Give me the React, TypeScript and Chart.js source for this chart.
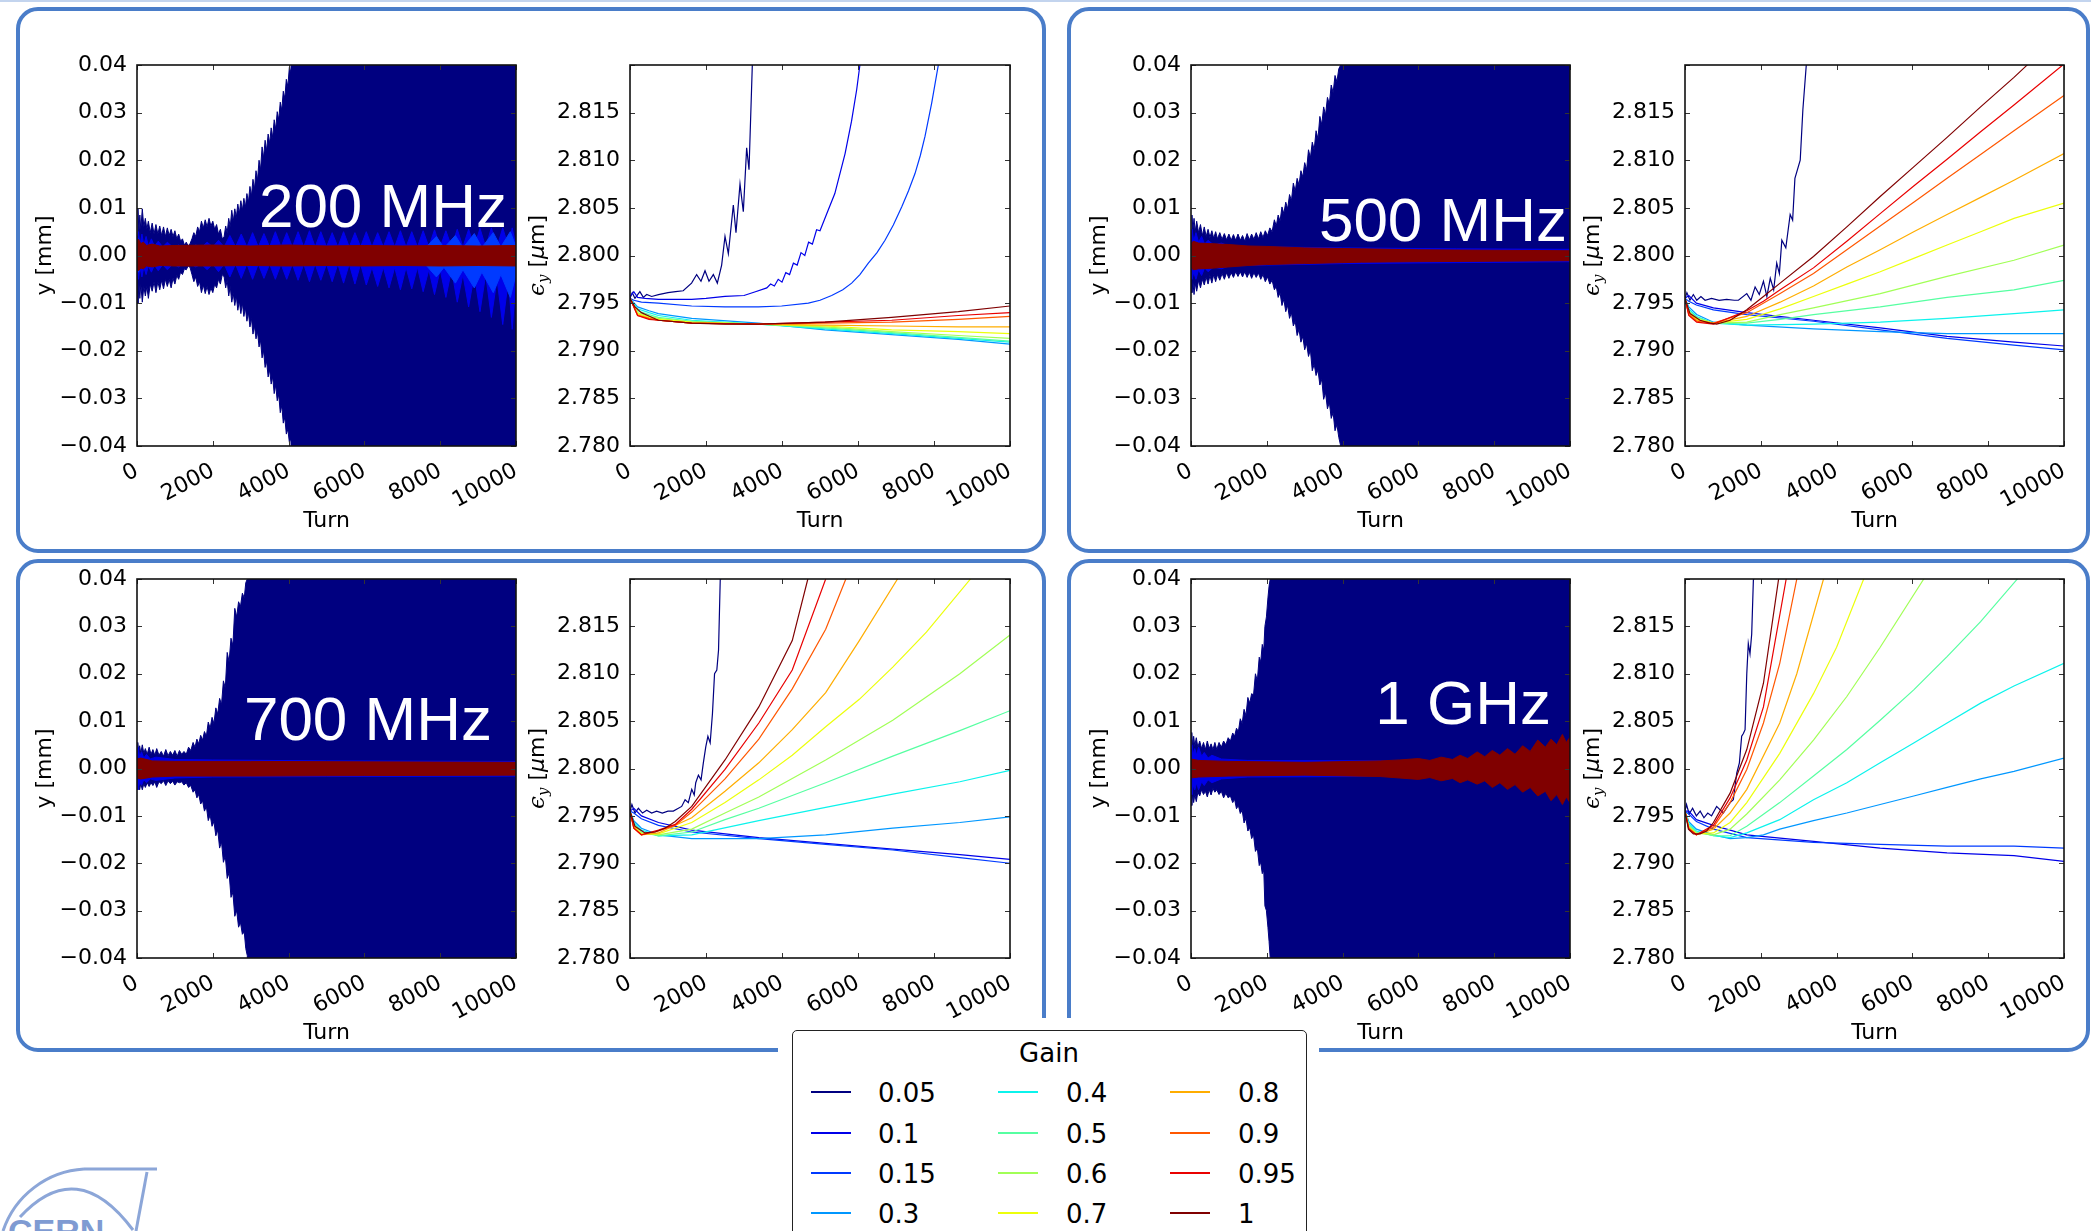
import React, { useEffect, useRef } from 'react';
import { Chart, registerables } from 'chart.js';

Chart.register(...registerables);
Chart.defaults.font.family = '"DejaVu Sans", sans-serif';

// ---------------- data ----------------
const GAIN_LABELS = ['0.05', '0.1', '0.15', '0.3', '0.4', '0.5', '0.6', '0.7', '0.8', '0.9', '0.95', '1'];
const GAIN_COLORS = ['#000080', '#0000E9', '#003AFF', '#0097FF', '#0BF3EC', '#56FFA1', '#A1FF56', '#ECFF0B', '#FFAD00', '#FF5700', '#E90100', '#800000'];
const FREQ_LABELS = ['200 MHz', '500 MHz', '700 MHz', '1 GHz'];
const TURN_TICKS = [0, 2000, 4000, 6000, 8000, 10000];
const Y_TICKS = [-0.04, -0.03, -0.02, -0.01, 0, 0.01, 0.02, 0.03, 0.04];
const EPS_TICKS = [2.78, 2.785, 2.79, 2.795, 2.8, 2.805, 2.81, 2.815, 2.82];

// vertical position envelopes [turn, upper (mm), lower (mm)]
const Y_200MHZ_NAVY = [[0,0.004,-0.004],[25,0.0099,-0.01],[50,0.005,-0.006],[75,0.0085,-0.009],[100,0.0055,-0.006],[140,0.0098,-0.0098],[180,0.006,-0.0065],[220,0.0078,-0.0085],[260,0.0055,-0.0065],[300,0.0072,-0.009],[350,0.0048,-0.006],[400,0.0068,-0.0075],[450,0.0045,-0.0055],[500,0.0065,-0.0078],[550,0.0045,-0.0055],[600,0.0062,-0.0072],[650,0.0042,-0.0052],[700,0.006,-0.007],[750,0.004,-0.005],[800,0.0058,-0.0065],[850,0.0042,-0.005],[900,0.0055,-0.0068],[950,0.004,-0.0048],[1000,0.0052,-0.006],[1050,0.0035,-0.0042],[1100,0.0045,-0.005],[1150,0.003,-0.0035],[1200,0.0035,-0.004],[1250,0.0022,-0.0028],[1300,0.0028,-0.003],[1350,0.002,-0.0022],[1400,0.0025,-0.0025],[1450,0.0035,-0.004],[1500,0.0048,-0.0055],[1550,0.004,-0.0045],[1600,0.006,-0.0065],[1650,0.005,-0.0055],[1700,0.0072,-0.0078],[1750,0.0058,-0.0062],[1800,0.0075,-0.008],[1850,0.006,-0.0065],[1900,0.0078,-0.0082],[1950,0.0062,-0.0068],[2000,0.0072,-0.0078],[2050,0.0055,-0.006],[2100,0.0065,-0.0068],[2150,0.0045,-0.005],[2200,0.0055,-0.006],[2250,0.0035,-0.004],[2300,0.004,-0.0045],[2340,0.0062,-0.0068],[2380,0.0048,-0.0052],[2420,0.0078,-0.0085],[2460,0.006,-0.0065],[2500,0.0095,-0.0098],[2540,0.0072,-0.008],[2580,0.0098,-0.0105],[2620,0.008,-0.0085],[2660,0.0108,-0.0115],[2700,0.0088,-0.0095],[2740,0.0115,-0.0122],[2780,0.0095,-0.01],[2820,0.012,-0.0128],[2860,0.0102,-0.011],[2900,0.013,-0.0138],[2940,0.0112,-0.012],[2980,0.0145,-0.015],[3020,0.0125,-0.0132],[3060,0.016,-0.0165],[3100,0.014,-0.0148],[3140,0.0178,-0.0175],[3180,0.0158,-0.016],[3220,0.02,-0.0192],[3260,0.018,-0.0178],[3300,0.0228,-0.0215],[3340,0.0205,-0.02],[3380,0.0242,-0.0235],[3420,0.022,-0.0222],[3460,0.0255,-0.0255],[3500,0.0235,-0.024],[3540,0.0268,-0.027],[3580,0.0248,-0.0255],[3620,0.0285,-0.029],[3660,0.0265,-0.0272],[3700,0.0302,-0.0305],[3740,0.0285,-0.0292],[3780,0.0322,-0.033],[3820,0.0305,-0.0315],[3860,0.0345,-0.0352],[3900,0.033,-0.034],[3940,0.037,-0.0375],[3980,0.0355,-0.0365],[4020,0.0395,-0.0392],[4060,0.0385,-0.0385],[4100,0.05,-0.05],[10000,0.05,-0.05]];
const Y_200MHZ_BLUE1 = [[0,0.003,-0.003],[40,0.005,-0.005],[80,0.0022,-0.0025],[130,0.0045,-0.0045],[180,0.0022,-0.0024],[240,0.004,-0.004],[300,0.002,-0.0022],[380,0.0035,-0.0035],[460,0.0019,-0.002],[560,0.003,-0.0032],[680,0.0018,-0.0019],[800,0.0028,-0.003],[950,0.0017,-0.0018],[1100,0.0022,-0.0024],[1250,0.0014,-0.0015],[1400,0.0016,-0.0017],[1550,0.0022,-0.0024],[1700,0.0017,-0.0018],[1850,0.0028,-0.003],[2000,0.0018,-0.0018],[2150,0.0032,-0.0034],[2300,0.0018,-0.0018],[2450,0.0042,-0.0045],[2600,0.0018,-0.0018],[2750,0.0045,-0.0048],[2900,0.0018,-0.0018],[3050,0.0048,-0.005],[3200,0.0018,-0.0018],[3350,0.0046,-0.0048],[3500,0.0018,-0.0018],[3650,0.005,-0.005],[3800,0.0018,-0.0018],[3950,0.0048,-0.005],[4100,0.0018,-0.0018],[4250,0.005,-0.0052],[4400,0.0018,-0.0018],[4550,0.0052,-0.0055],[4700,0.0018,-0.0018],[4850,0.005,-0.0052],[5000,0.0018,-0.0018],[5150,0.0048,-0.0055],[5300,0.0018,-0.0018],[5450,0.005,-0.0058],[5600,0.0018,-0.0018],[5750,0.0048,-0.006],[5900,0.0018,-0.0018],[6050,0.005,-0.0062],[6200,0.0018,-0.0025],[6350,0.0048,-0.0065],[6500,0.0018,-0.0025],[6650,0.005,-0.0068],[6800,0.0018,-0.0025],[6950,0.0052,-0.0072],[7100,0.0018,-0.0025],[7250,0.005,-0.007],[7400,0.0018,-0.0025],[7550,0.0052,-0.0076],[7700,0.0018,-0.003],[7850,0.0054,-0.0082],[8000,0.0018,-0.003],[8150,0.0052,-0.0088],[8300,0.0018,-0.003],[8450,0.0055,-0.0098],[8600,0.0018,-0.004],[8750,0.0055,-0.0108],[8900,0.0018,-0.004],[9050,0.0057,-0.0118],[9200,0.0018,-0.004],[9350,0.0058,-0.013],[9500,0.0018,-0.005],[9650,0.0058,-0.0145],[9800,0.0018,-0.005],[9900,0.0058,-0.0155],[10000,0.0018,-0.005]];
const Y_200MHZ_BLUE2 = [[0,0.002,-0.002],[40,0.0035,-0.0035],[100,0.0015,-0.0015],[200,0.0022,-0.0022],[400,0.0014,-0.0015],[1000,0.0013,-0.0013],[7600,0.0015,-0.0018],[7900,0.004,-0.0045],[8100,0.0016,-0.0025],[8400,0.0042,-0.0058],[8600,0.0016,-0.003],[8900,0.0046,-0.0068],[9100,0.0017,-0.0035],[9400,0.0048,-0.0078],[9600,0.0018,-0.004],[9850,0.005,-0.0088],[10000,0.0018,-0.004]];
const Y_200MHZ_RED = [[0,0.003,-0.003],[40,0.0034,-0.0032],[100,0.0025,-0.0026],[170,0.0028,-0.0028],[250,0.0021,-0.0022],[400,0.0024,-0.0024],[600,0.002,-0.0021],[1000,0.0021,-0.0022],[2000,0.0022,-0.0022],[3000,0.002,-0.0021],[4000,0.0022,-0.0022],[5000,0.002,-0.0021],[6000,0.0021,-0.0022],[7000,0.002,-0.0021],[8000,0.0021,-0.0022],[9000,0.002,-0.0021],[10000,0.0021,-0.0022]];

const Y_500MHZ_NAVY = [[0,0.004,-0.004],[25,0.0085,-0.0078],[50,0.0055,-0.0055],[80,0.0078,-0.0082],[110,0.005,-0.0058],[150,0.0072,-0.0075],[200,0.0048,-0.0052],[250,0.0065,-0.0068],[300,0.0042,-0.005],[350,0.006,-0.0062],[400,0.004,-0.0045],[450,0.0055,-0.006],[500,0.0038,-0.0042],[550,0.0052,-0.0058],[600,0.0036,-0.004],[650,0.005,-0.0055],[700,0.0035,-0.004],[760,0.0048,-0.0052],[820,0.0034,-0.0038],[880,0.0046,-0.005],[940,0.0033,-0.0036],[1000,0.0045,-0.0048],[1060,0.0032,-0.0036],[1120,0.0044,-0.0046],[1180,0.0032,-0.0034],[1240,0.0045,-0.0044],[1300,0.0032,-0.0034],[1360,0.0042,-0.0045],[1420,0.003,-0.0034],[1480,0.0046,-0.0046],[1540,0.0033,-0.0035],[1600,0.0045,-0.0048],[1660,0.0034,-0.0036],[1720,0.0048,-0.0046],[1780,0.0035,-0.0037],[1840,0.005,-0.005],[1900,0.0038,-0.004],[1960,0.0052,-0.0055],[2020,0.0042,-0.0045],[2080,0.0058,-0.006],[2140,0.005,-0.0052],[2200,0.0075,-0.0072],[2250,0.0062,-0.0065],[2300,0.0085,-0.0088],[2350,0.0072,-0.0078],[2400,0.0102,-0.0105],[2450,0.0088,-0.0092],[2500,0.0112,-0.0118],[2550,0.0098,-0.0105],[2600,0.0128,-0.0132],[2650,0.0115,-0.012],[2700,0.0152,-0.0148],[2750,0.0135,-0.0138],[2800,0.0162,-0.0168],[2850,0.0148,-0.0155],[2900,0.0178,-0.0182],[2950,0.0165,-0.017],[3000,0.0195,-0.0198],[3050,0.018,-0.0185],[3100,0.0222,-0.0212],[3150,0.0205,-0.0198],[3200,0.0238,-0.0242],[3250,0.0222,-0.0228],[3300,0.0262,-0.0252],[3350,0.0245,-0.024],[3400,0.0292,-0.0272],[3450,0.0275,-0.026],[3500,0.0312,-0.0302],[3550,0.0295,-0.0288],[3600,0.0332,-0.0322],[3650,0.0318,-0.0308],[3700,0.0358,-0.0342],[3750,0.0342,-0.033],[3800,0.0378,-0.0368],[3850,0.0365,-0.0355],[3900,0.0392,-0.0382],[3950,0.04,-0.04],[4000,0.05,-0.05],[10000,0.05,-0.05]];
const Y_500MHZ_BLUE1 = [[0,0.003,-0.003],[30,0.0055,-0.005],[70,0.003,-0.0035],[130,0.0048,-0.005],[200,0.0028,-0.003],[280,0.004,-0.0042],[360,0.0024,-0.0026],[450,0.0032,-0.0034],[600,0.0022,-0.0024],[800,0.0026,-0.0028],[1000,0.002,-0.0022],[2000,0.0018,-0.002],[4000,0.0016,-0.0017],[7000,0.0014,-0.0015],[10000,0.0013,-0.0013]];
const Y_500MHZ_RED = [[0,0.0025,-0.0025],[60,0.003,-0.003],[200,0.0026,-0.0028],[500,0.0025,-0.0027],[1000,0.0023,-0.0024],[1500,0.002,-0.0021],[2000,0.0019,-0.0019],[3000,0.0016,-0.0017],[4500,0.0014,-0.0014],[6000,0.0012,-0.0013],[8000,0.0011,-0.0012],[10000,0.001,-0.0011]];

const Y_700MHZ_NAVY = [[0,0.003,-0.003],[20,0.0055,-0.0045],[45,0.0035,-0.0035],[70,0.0048,-0.0045],[100,0.0032,-0.0032],[140,0.005,-0.0045],[180,0.0032,-0.0032],[220,0.0042,-0.004],[270,0.003,-0.003],[320,0.0045,-0.0038],[370,0.003,-0.003],[420,0.004,-0.0036],[470,0.0028,-0.0028],[520,0.0042,-0.004],[580,0.0028,-0.0028],[640,0.0036,-0.0032],[700,0.0026,-0.0026],[760,0.004,-0.0036],[820,0.0027,-0.0026],[880,0.0036,-0.0032],[940,0.0028,-0.0027],[1000,0.0038,-0.0035],[1060,0.0026,-0.0028],[1120,0.0038,-0.003],[1180,0.003,-0.0028],[1240,0.0036,-0.0035],[1300,0.003,-0.003],[1360,0.0045,-0.004],[1420,0.0038,-0.0036],[1480,0.0055,-0.005],[1530,0.0045,-0.0045],[1580,0.0062,-0.0062],[1630,0.0052,-0.0055],[1680,0.007,-0.0075],[1730,0.006,-0.0068],[1780,0.0078,-0.009],[1830,0.0068,-0.008],[1880,0.0098,-0.011],[1930,0.0085,-0.0098],[1980,0.0108,-0.0122],[2030,0.0095,-0.0112],[2080,0.0128,-0.0142],[2130,0.0115,-0.013],[2180,0.0148,-0.0168],[2230,0.0135,-0.0155],[2280,0.0185,-0.0198],[2330,0.017,-0.0185],[2380,0.0245,-0.0232],[2430,0.0225,-0.022],[2480,0.0275,-0.0272],[2530,0.026,-0.0262],[2580,0.0338,-0.0312],[2630,0.032,-0.03],[2680,0.0352,-0.0335],[2730,0.0342,-0.0325],[2780,0.037,-0.035],[2830,0.036,-0.0345],[2870,0.0392,-0.038],[2910,0.04,-0.0395],[2960,0.05,-0.05],[10000,0.05,-0.05]];
const Y_700MHZ_BLUE1 = [[0,0.0035,-0.0035],[30,0.0045,-0.0045],[70,0.0025,-0.003],[120,0.0035,-0.0035],[180,0.0022,-0.0024],[250,0.003,-0.003],[350,0.002,-0.0022],[500,0.0024,-0.0025],[1000,0.0019,-0.002],[2000,0.0018,-0.0018],[5000,0.0016,-0.0017],[10000,0.0015,-0.0016]];
const Y_700MHZ_RED = [[0,0.002,-0.002],[100,0.0022,-0.0022],[400,0.0016,-0.0018],[1000,0.0015,-0.0016],[3000,0.0015,-0.0016],[6000,0.0014,-0.0015],[10000,0.0013,-0.0014]];

const Y_1GHZ_NAVY = [[0,0.004,-0.004],[20,0.0076,-0.0078],[45,0.0045,-0.0052],[70,0.0068,-0.0072],[100,0.0048,-0.0055],[140,0.0065,-0.007],[180,0.0045,-0.005],[230,0.0058,-0.0058],[280,0.0042,-0.0045],[330,0.0055,-0.0055],[380,0.004,-0.0048],[430,0.0058,-0.006],[480,0.0042,-0.0045],[530,0.0052,-0.0056],[580,0.004,-0.0042],[630,0.0055,-0.005],[680,0.004,-0.0045],[740,0.0055,-0.0055],[800,0.0045,-0.0048],[860,0.0058,-0.0062],[920,0.005,-0.0052],[980,0.0065,-0.0062],[1040,0.0058,-0.0058],[1100,0.0075,-0.0072],[1150,0.0068,-0.0065],[1200,0.0085,-0.0085],[1250,0.0078,-0.0078],[1300,0.0105,-0.0095],[1350,0.0095,-0.0088],[1400,0.0125,-0.0115],[1450,0.0112,-0.0105],[1500,0.015,-0.0132],[1550,0.0138,-0.0125],[1600,0.0158,-0.0148],[1650,0.0155,-0.014],[1700,0.02,-0.0175],[1750,0.0185,-0.0168],[1800,0.0235,-0.0205],[1840,0.0225,-0.0198],[1880,0.0262,-0.0222],[1920,0.025,-0.0215],[1950,0.03,-0.029],[1990,0.032,-0.03],[2030,0.036,-0.0335],[2060,0.0385,-0.0365],[2090,0.04,-0.04],[2110,0.05,-0.05],[10000,0.05,-0.05]];
const Y_1GHZ_BLUE1 = [[0,0.0035,-0.0035],[25,0.005,-0.0055],[60,0.003,-0.0035],[100,0.0042,-0.0045],[150,0.0028,-0.003],[200,0.0045,-0.0045],[280,0.0026,-0.0028],[350,0.0034,-0.0036],[450,0.0022,-0.0024],[550,0.0028,-0.003],[800,0.002,-0.0022],[1500,0.0017,-0.0018],[10000,0.0015,-0.0015]];
const Y_1GHZ_RED = [[0,0.002,-0.002],[200,0.0017,-0.0018],[1000,0.0015,-0.0016],[3000,0.0013,-0.0014],[5000,0.0016,-0.0017],[5500,0.0018,-0.002],[6000,0.0021,-0.0023],[6300,0.0017,-0.0019],[6600,0.0024,-0.0026],[6900,0.0019,-0.0021],[7100,0.0028,-0.003],[7300,0.0021,-0.0024],[7550,0.0035,-0.0033],[7750,0.0025,-0.0026],[7950,0.0038,-0.004],[8150,0.0028,-0.003],[8350,0.0042,-0.0044],[8550,0.003,-0.0034],[8750,0.0048,-0.005],[8950,0.0036,-0.004],[9150,0.006,-0.0058],[9350,0.0045,-0.0048],[9500,0.0062,-0.0068],[9650,0.005,-0.0055],[9800,0.0072,-0.0076],[9900,0.0055,-0.006],[10000,0.0066,-0.0072]];

// emittance curves per gain (same order as GAIN_LABELS): [turn, eps_y (um)]
const EPS_200MHZ = [
  [[0,2.7955],[60,2.7961],[130,2.7955],[260,2.7962],[350,2.7956],[440,2.7959],[570,2.7957],[750,2.7959],[1000,2.7961],[1200,2.7962],[1400,2.7963],[1620,2.7971],[1754,2.798],[1868,2.7973],[1974,2.7984],[2079,2.7973],[2193,2.798],[2298,2.7971],[2412,2.799],[2500,2.802],[2588,2.8002],[2719,2.8053],[2789,2.8024],[2895,2.8075],[2982,2.8046],[3070,2.8113],[3132,2.809],[3219,2.82],[3240,2.823]],
  [[0,2.7957],[100,2.7962],[200,2.7956],[400,2.7955],[746,2.7954],[1200,2.7954],[1623,2.7954],[2000,2.7955],[2500,2.7957],[3000,2.7958],[3300,2.7962],[3600,2.7966],[3700,2.797],[3800,2.7968],[3900,2.7975],[4000,2.7972],[4100,2.7982],[4200,2.798],[4300,2.7992],[4400,2.799],[4500,2.8003],[4600,2.8],[4700,2.8014],[4800,2.8012],[4910,2.8027],[5000,2.8026],[5180,2.8044],[5390,2.8065],[5660,2.8107],[5830,2.8141],[5965,2.8174],[6050,2.82],[6080,2.822]],
  [[0,2.7955],[100,2.7953],[300,2.7951],[746,2.795],[1623,2.7947],[2500,2.7946],[3377,2.7946],[3990,2.7947],[4693,2.795],[5000,2.7953],[5307,2.7958],[5600,2.7964],[5833,2.7971],[6050,2.798],[6272,2.7992],[6500,2.8003],[6711,2.8016],[6930,2.8032],[7149,2.8051],[7330,2.8068],[7500,2.8086],[7640,2.8105],[7763,2.8125],[7939,2.816],[8114,2.82],[8150,2.8215]],
  [[0,2.7955],[200,2.7946],[500,2.7942],[746,2.7939],[1623,2.7934],[3377,2.7929],[5132,2.7922],[6886,2.7917],[8640,2.7912],[10000,2.7907]],
  [[0,2.7955],[200,2.7944],[500,2.794],[746,2.7937],[1623,2.7932],[3377,2.7928],[5132,2.7923],[6886,2.7918],[8640,2.7913],[10000,2.7909]],
  [[0,2.7955],[200,2.7942],[500,2.7938],[746,2.7935],[1623,2.7931],[3377,2.7928],[5132,2.7924],[6886,2.7919],[8640,2.7914],[10000,2.791]],
  [[0,2.7955],[200,2.794],[500,2.7936],[746,2.7934],[1623,2.793],[3377,2.7928],[5132,2.7925],[6886,2.792],[8640,2.7916],[10000,2.7913]],
  [[0,2.7955],[200,2.7939],[500,2.7935],[746,2.7933],[1623,2.793],[3377,2.7928],[5132,2.7926],[6886,2.7922],[8640,2.792],[10000,2.7918]],
  [[0,2.7955],[200,2.7938],[500,2.7934],[746,2.7932],[1623,2.7929],[3377,2.7928],[5132,2.7927],[6886,2.7926],[8640,2.7925],[10000,2.7925]],
  [[0,2.7955],[200,2.7937],[500,2.7934],[746,2.7932],[1623,2.7929],[3377,2.7928],[5132,2.7929],[6886,2.793],[8640,2.7933],[10000,2.7936]],
  [[0,2.7955],[200,2.7937],[500,2.7933],[746,2.7932],[1623,2.7929],[3377,2.7928],[5132,2.793],[6886,2.7932],[8640,2.7937],[10000,2.794]],
  [[0,2.7955],[130,2.7946],[300,2.794],[526,2.7936],[746,2.7932],[1623,2.7929],[2500,2.7928],[3377,2.7928],[5132,2.793],[6886,2.7935],[8640,2.7941],[10000,2.7947]],
];
const EPS_500MHZ = [
  [[0,2.7955],[50,2.7961],[130,2.7953],[220,2.7959],[310,2.7953],[420,2.7957],[530,2.7953],[700,2.7955],[900,2.7953],[1100,2.7954],[1300,2.7953],[1410,2.7953],[1630,2.796],[1740,2.7953],[1850,2.7967],[1960,2.7959],[2070,2.7973],[2160,2.7957],[2250,2.7976],[2340,2.7964],[2420,2.7992],[2490,2.7981],[2555,2.8016],[2660,2.8008],[2775,2.8043],[2840,2.8037],[2900,2.8081],[3040,2.81],[3110,2.8153],[3200,2.82],[3220,2.822]],
  [[0,2.7955],[100,2.7958],[300,2.795],[750,2.7945],[1630,2.794],[3390,2.7932],[5150,2.7924],[6915,2.7915],[8680,2.7909],[10000,2.7905]],
  [[0,2.7955],[100,2.7952],[300,2.7948],[750,2.7943],[1630,2.7938],[3390,2.7931],[5150,2.7922],[6915,2.7913],[8680,2.7906],[10000,2.7901]],
  [[0,2.7955],[100,2.7946],[308,2.7938],[750,2.793],[1630,2.7927],[3390,2.7923],[5150,2.792],[6915,2.7918],[8680,2.7918],[10000,2.7918]],
  [[0,2.7955],[100,2.7944],[308,2.7936],[750,2.7929],[1630,2.7927],[3390,2.7928],[5150,2.793],[6915,2.7934],[8680,2.7939],[10000,2.7943]],
  [[0,2.7955],[100,2.7942],[308,2.7935],[750,2.7929],[1630,2.7929],[2510,2.7933],[3390,2.7938],[5150,2.7946],[6915,2.7956],[8680,2.7964],[10000,2.7974]],
  [[0,2.7955],[100,2.7941],[308,2.7934],[750,2.7929],[1630,2.793],[2510,2.7938],[3390,2.7945],[5150,2.796],[6915,2.7978],[8680,2.7995],[10000,2.8011]],
  [[0,2.7955],[100,2.794],[308,2.7933],[750,2.7929],[1630,2.7933],[2510,2.7944],[3390,2.7957],[4270,2.797],[5150,2.7983],[6035,2.7997],[6915,2.8011],[7800,2.8025],[8680,2.8039],[10000,2.8055]],
  [[0,2.7955],[100,2.7939],[308,2.7932],[750,2.7929],[1630,2.7936],[2510,2.7951],[3390,2.7968],[4270,2.7988],[5150,2.8006],[6035,2.8025],[6915,2.8043],[7800,2.8061],[8680,2.8079],[10000,2.8107]],
  [[0,2.7955],[100,2.7938],[308,2.7931],[750,2.7929],[1630,2.794],[2510,2.796],[3390,2.7981],[4270,2.8006],[5150,2.8031],[6035,2.8056],[6915,2.8081],[7800,2.8106],[8680,2.8131],[10000,2.8168]],
  [[0,2.7955],[100,2.7937],[308,2.793],[750,2.7928],[1630,2.7942],[2070,2.7952],[2510,2.7964],[3390,2.7987],[4270,2.8015],[5150,2.8044],[6035,2.8073],[6915,2.8101],[7800,2.813],[8680,2.8158],[10000,2.8201]],
  [[0,2.7955],[132,2.7939],[396,2.7932],[660,2.7929],[837,2.7928],[1190,2.7932],[1630,2.7943],[2070,2.7957],[2510,2.7971],[3390,2.7999],[4270,2.803],[5150,2.8062],[6035,2.8093],[6915,2.8124],[7800,2.8156],[8680,2.8187],[9030,2.82],[9100,2.8205]],
];
const EPS_700MHZ = [
  [[0,2.7955],[50,2.7962],[130,2.7953],[220,2.7958],[330,2.7953],[440,2.7956],[570,2.7953],[700,2.7955],[850,2.7953],[1000,2.7955],[1140,2.7955],[1360,2.796],[1450,2.7967],[1535,2.7964],[1625,2.7978],[1690,2.7972],[1730,2.7985],[1800,2.7993],[1870,2.7988],[1930,2.8006],[1995,2.8023],[2050,2.8034],[2110,2.8027],[2170,2.8058],[2225,2.81],[2285,2.8104],[2330,2.8125],[2375,2.82],[2390,2.822]],
  [[0,2.7955],[100,2.7958],[300,2.795],[750,2.7943],[1625,2.7935],[3390,2.7927],[5150,2.7921],[6915,2.7915],[8680,2.7909],[10000,2.7904]],
  [[0,2.7955],[100,2.7953],[300,2.7947],[750,2.794],[1625,2.7933],[3390,2.7926],[5150,2.792],[6915,2.7914],[8680,2.7906],[10000,2.79]],
  [[0,2.7955],[100,2.7945],[300,2.7937],[750,2.793],[1625,2.7926],[3390,2.7926],[5150,2.793],[6915,2.7937],[8680,2.7943],[10000,2.7949]],
  [[0,2.7955],[100,2.7943],[300,2.7935],[750,2.7929],[1625,2.793],[3390,2.7945],[5150,2.7959],[6915,2.7973],[8680,2.7986],[10000,2.7998]],
  [[0,2.7955],[100,2.7941],[300,2.7933],[750,2.7929],[1625,2.7933],[2500,2.7946],[3390,2.7958],[5150,2.7985],[6915,2.8013],[8680,2.804],[10000,2.8061]],
  [[0,2.7955],[100,2.794],[300,2.7932],[750,2.793],[1625,2.7936],[2500,2.7953],[3390,2.797],[5150,2.8009],[6915,2.8051],[8680,2.81],[10000,2.8141]],
  [[0,2.7955],[100,2.7939],[300,2.7931],[750,2.7931],[1625,2.7943],[2500,2.7964],[3390,2.7988],[4270,2.8014],[5150,2.8044],[6035,2.8073],[6915,2.8107],[7800,2.8144],[8960,2.82],[9000,2.8203]],
  [[0,2.7955],[100,2.7938],[300,2.793],[750,2.7932],[1625,2.7948],[2500,2.7976],[3390,2.8006],[4270,2.8041],[5150,2.808],[6035,2.8135],[7040,2.82],[7100,2.8205]],
  [[0,2.7955],[100,2.7937],[300,2.793],[750,2.7934],[1190,2.794],[1625,2.7954],[2500,2.7989],[3390,2.8031],[4270,2.8084],[5150,2.8147],[5680,2.82],[5720,2.8205]],
  [[0,2.7955],[100,2.7937],[300,2.793],[750,2.7935],[1190,2.7941],[1625,2.7957],[2500,2.7999],[3390,2.8048],[4270,2.8104],[5150,2.82],[5200,2.8205]],
  [[0,2.7955],[130,2.7939],[395,2.7932],[660,2.7933],[920,2.7937],[1190,2.7944],[1625,2.796],[2500,2.8009],[3390,2.8065],[4270,2.8135],[4680,2.82],[4720,2.8205]],
];
const EPS_1GHZ = [
  [[0,2.7955],[40,2.7962],[110,2.7952],[200,2.7958],[300,2.795],[400,2.7955],[500,2.7948],[600,2.7953],[700,2.795],[835,2.796],[1010,2.7953],[1190,2.7964],[1275,2.7967],[1365,2.7995],[1435,2.8006],[1495,2.8034],[1540,2.8037],[1585,2.8041],[1630,2.81],[1670,2.8132],[1715,2.8121],[1760,2.8142],[1805,2.82],[1820,2.8215]],
  [[0,2.7955],[100,2.7955],[300,2.7946],[750,2.794],[1630,2.793],[3390,2.7923],[5150,2.7916],[6915,2.7911],[8680,2.7908],[10000,2.7902]],
  [[0,2.7955],[100,2.7952],[300,2.7944],[750,2.7936],[1630,2.7927],[3390,2.7922],[5150,2.792],[6915,2.7918],[8680,2.7918],[10000,2.7916]],
  [[0,2.7955],[100,2.7944],[300,2.7936],[750,2.793],[1190,2.7926],[1630,2.7927],[2070,2.793],[2500,2.7936],[3390,2.7945],[4270,2.7953],[5150,2.7962],[6035,2.7971],[6915,2.798],[7800,2.7989],[8680,2.7997],[10000,2.8011]],
  [[0,2.7955],[100,2.7942],[300,2.7934],[750,2.7929],[1190,2.7927],[1630,2.7932],[2500,2.7946],[3390,2.7967],[4270,2.7985],[5150,2.8006],[6035,2.8027],[6915,2.8048],[7800,2.8069],[8680,2.8087],[10000,2.8111]],
  [[0,2.7955],[100,2.794],[300,2.7933],[750,2.7929],[1190,2.7929],[1630,2.7939],[2500,2.7964],[3390,2.7992],[4270,2.802],[5150,2.8051],[6035,2.8083],[6915,2.8118],[7800,2.8155],[8770,2.82],[8800,2.8202]],
  [[0,2.7955],[100,2.7939],[300,2.7932],[750,2.793],[1190,2.7936],[1630,2.7952],[2500,2.7988],[3390,2.803],[4270,2.8076],[5150,2.8128],[6300,2.82],[6350,2.8203]],
  [[0,2.7955],[100,2.7938],[300,2.7931],[750,2.7932],[1190,2.7943],[1630,2.7964],[2500,2.8016],[3390,2.8079],[4000,2.8128],[4715,2.82],[4750,2.8204]],
  [[0,2.7955],[100,2.7937],[300,2.793],[750,2.7936],[1190,2.7953],[1630,2.7978],[2500,2.8048],[2950,2.81],[3655,2.82],[3700,2.8206]],
  [[0,2.7955],[100,2.7937],[300,2.793],[750,2.7938],[1190,2.7964],[1630,2.7999],[2070,2.8048],[2500,2.8111],[2950,2.82],[2980,2.8205]],
  [[0,2.7955],[100,2.7936],[300,2.793],[750,2.794],[1190,2.7969],[1630,2.8009],[2070,2.8065],[2670,2.82],[2700,2.8205]],
  [[0,2.7955],[90,2.7936],[220,2.7931],[395,2.7931],[570,2.7934],[750,2.7943],[1190,2.7974],[1630,2.802],[2070,2.809],[2470,2.82],[2500,2.8206]],
];

// ---------------- layout ----------------
const YW = 130;
const XH = 100;
const PT = 15;
const PR = 15;
const FONT = '"DejaVu Sans", sans-serif';
const PANEL_BLUE = '#4A7DC9';

const mplPlugin: any = {
  id: 'mpl',
  afterDatasetsDraw(chart: any, _args: any, opts: any) {
    const { ctx, chartArea: a } = chart;
    const xs = chart.scales.x;
    const ys = chart.scales.y;
    ctx.save();
    if (opts.label) {
      ctx.font = '62px "Liberation Sans", Arial, sans-serif';
      ctx.fillStyle = '#ffffff';
      ctx.textAlign = 'right';
      ctx.textBaseline = 'alphabetic';
      ctx.fillText(opts.label, a.right - opts.labelDx, a.top + opts.labelDy);
    }
    ctx.strokeStyle = '#333';
    ctx.lineWidth = 1;
    ctx.beginPath();
    xs.ticks.forEach((t: any) => {
      const p = Math.round(xs.getPixelForValue(t.value)) + 0.5;
      ctx.moveTo(p, a.bottom); ctx.lineTo(p, a.bottom - 5);
      ctx.moveTo(p, a.top); ctx.lineTo(p, a.top + 5);
    });
    ys.ticks.forEach((t: any) => {
      const p = Math.round(ys.getPixelForValue(t.value)) + 0.5;
      ctx.moveTo(a.left, p); ctx.lineTo(a.left + 5, p);
      ctx.moveTo(a.right, p); ctx.lineTo(a.right - 5, p);
    });
    ctx.stroke();
    ctx.lineWidth = 1.6;
    ctx.strokeStyle = '#111';
    ctx.strokeRect(a.left, a.top, a.right - a.left, a.bottom - a.top);

    ctx.fillStyle = '#000';
    ctx.font = '22px ' + FONT;
    ctx.textAlign = 'center';
    ctx.textBaseline = 'alphabetic';
    ctx.fillText('Turn', (a.left + a.right) / 2, a.bottom + 81);

    ctx.translate(a.left - 92, (a.top + a.bottom) / 2);
    ctx.rotate(-Math.PI / 2);
    ctx.textBaseline = 'middle';
    if (opts.yTitle === 'y') {
      ctx.font = '22px ' + FONT;
      ctx.textAlign = 'center';
      ctx.fillText('y [mm]', 0, 0);
    } else {
      const parts = [
        { t: '\u03F5', f: 'italic 23px "DejaVu Serif", serif', dy: 0 },
        { t: 'y', f: 'italic 15px "DejaVu Serif", serif', dy: 6 },
        { t: ' [', f: '22px ' + FONT, dy: 0 },
        { t: '\u03BC', f: 'italic 22px "DejaVu Sans", sans-serif', dy: 0 },
        { t: 'm]', f: '22px ' + FONT, dy: 0 },
      ];
      let total = 0;
      const widths = parts.map((p) => { ctx.font = p.f; const w = ctx.measureText(p.t).width; total += w; return w; });
      let x = -total / 2;
      ctx.textAlign = 'left';
      parts.forEach((p, i) => { ctx.font = p.f; ctx.fillText(p.t, x, p.dy); x += widths[i]; });
    }
    ctx.restore();
  },
};

function scalesFor(yMin: number, yMax: number, yTicks: number[], yFmt: (v: number) => string) {
  const tickFont = { family: FONT, size: 22 };
  return {
    x: {
      type: 'linear', min: 0, max: 10000,
      afterBuildTicks: (s: any) => { s.ticks = TURN_TICKS.map((v) => ({ value: v })); },
      ticks: { autoSkip: false, minRotation: 28, maxRotation: 28, padding: 12, color: '#000', font: tickFont, callback: (v: any) => String(v) },
      grid: { display: false, drawTicks: false },
      border: { display: false },
      afterFit: (s: any) => { s.height = XH; s.paddingLeft = 0; s.paddingRight = 0; },
    },
    y: {
      type: 'linear', min: yMin, max: yMax,
      afterBuildTicks: (s: any) => { s.ticks = yTicks.map((v) => ({ value: v })); },
      ticks: { autoSkip: false, padding: 10, color: '#000', font: tickFont, callback: (v: any) => yFmt(Number(v)) },
      grid: { display: false, drawTicks: false },
      border: { display: false },
      afterFit: (s: any) => { s.width = YW; s.paddingTop = 0; s.paddingBottom = 0; },
    },
  };
}

const fmtY = (v: number) => (v < -1e-9 ? '\u2212' : '') + Math.abs(v).toFixed(2);
const fmtEps = (v: number) => (Math.abs(v - 2.82) < 1e-9 ? '' : v.toFixed(3));

function baseOptions(scales: any, mpl: any) {
  return {
    animation: false,
    responsive: false,
    maintainAspectRatio: false,
    events: [],
    layout: { padding: { top: PT, right: PR, left: 0, bottom: 0 } },
    plugins: { legend: { display: false }, tooltip: { enabled: false }, mpl },
    scales,
  };
}

function signalConfig(layers: { color: string; env: number[][] }[], label: string, labelDx: number, labelDy: number) {
  // layers listed top-most first
  const datasets: any[] = [];
  layers.forEach((layer) => {
    datasets.push({
      data: layer.env.map((p) => ({ x: p[0], y: p[1] })),
      borderColor: layer.color, backgroundColor: layer.color, borderWidth: 1,
      pointRadius: 0, tension: 0, fill: '+1', clip: 0,
    });
    datasets.push({
      data: layer.env.map((p) => ({ x: p[0], y: p[2] })),
      borderColor: layer.color, backgroundColor: layer.color, borderWidth: 1,
      pointRadius: 0, tension: 0, fill: false, clip: 0,
    });
  });
  return {
    type: 'line',
    data: { datasets },
    options: baseOptions(scalesFor(-0.04, 0.04, Y_TICKS, fmtY), { yTitle: 'y', label, labelDx, labelDy }),
    plugins: [mplPlugin],
  };
}

function emitConfig(series: number[][][]) {
  const datasets = series.map((pts, i) => ({
    data: pts.map((p) => ({ x: p[0], y: p[1] })),
    borderColor: GAIN_COLORS[i], borderWidth: 1.2, pointRadius: 0, tension: 0,
    fill: false, clip: 0, order: series.length - i,
  }));
  return {
    type: 'line',
    data: { datasets },
    options: baseOptions(scalesFor(2.78, 2.82, EPS_TICKS, fmtEps), { yTitle: 'eps', label: '' }),
    plugins: [mplPlugin],
  };
}

function PlotCanvas({ L, T, R, B, make }: { L: number; T: number; R: number; B: number; make: () => any }) {
  const ref = useRef<HTMLCanvasElement | null>(null);
  const w = R - L + YW + PR;
  const h = B - T + PT + XH;
  useEffect(() => {
    const chart = new Chart(ref.current as HTMLCanvasElement, make());
    return () => chart.destroy();
  }, []);
  return (
    <canvas
      ref={ref}
      width={w}
      height={h}
      style={{ position: 'absolute', left: L - YW, top: T - PT, width: w, height: h }}
    />
  );
}

const C = GAIN_COLORS;
const PLOTS = [
  { L: 137, T: 65, R: 516, B: 446, make: () => signalConfig([{ color: C[11], env: Y_200MHZ_RED }, { color: C[2], env: Y_200MHZ_BLUE2 }, { color: C[1], env: Y_200MHZ_BLUE1 }, { color: C[0], env: Y_200MHZ_NAVY }], FREQ_LABELS[0], 9, 162) },
  { L: 630, T: 65, R: 1010, B: 446, make: () => emitConfig(EPS_200MHZ) },
  { L: 1191, T: 65, R: 1570, B: 446, make: () => signalConfig([{ color: C[11], env: Y_500MHZ_RED }, { color: C[1], env: Y_500MHZ_BLUE1 }, { color: C[0], env: Y_500MHZ_NAVY }], FREQ_LABELS[1], 3, 176) },
  { L: 1685, T: 65, R: 2064, B: 446, make: () => emitConfig(EPS_500MHZ) },
  { L: 137, T: 579, R: 516, B: 958, make: () => signalConfig([{ color: C[11], env: Y_700MHZ_RED }, { color: C[1], env: Y_700MHZ_BLUE1 }, { color: C[0], env: Y_700MHZ_NAVY }], FREQ_LABELS[2], 24, 161) },
  { L: 630, T: 579, R: 1010, B: 958, make: () => emitConfig(EPS_700MHZ) },
  { L: 1191, T: 579, R: 1570, B: 958, make: () => signalConfig([{ color: C[11], env: Y_1GHZ_RED }, { color: C[1], env: Y_1GHZ_BLUE1 }, { color: C[0], env: Y_1GHZ_NAVY }], FREQ_LABELS[3], 19, 145) },
  { L: 1685, T: 579, R: 2064, B: 958, make: () => emitConfig(EPS_1GHZ) },
];

const PANELS = [
  { left: 16, top: 7, width: 1030, height: 546 },
  { left: 1067, top: 7, width: 1023, height: 546 },
  { left: 16, top: 559, width: 1030, height: 493 },
  { left: 1067, top: 559, width: 1023, height: 493 },
];

const LEG_ROWS = [1092, 1133, 1173, 1213];
const LEG_LINE_X = [811, 998, 1170];
const LEG_TEXT_X = [878, 1066, 1238];

export default function App() {
  useEffect(() => {
    document.body.style.margin = '0';
    document.body.style.overflow = 'hidden';
  }, []);
  return (
    <div style={{ position: 'absolute', left: 0, top: 0, width: 2091, height: 1231, overflow: 'hidden', background: '#fff' }}>
      <div style={{ position: 'absolute', left: 0, top: 0, width: 2091, height: 2, background: '#c3d4ee' }} />
      {PANELS.map((p, i) => (
        <div key={'p' + i} style={{ position: 'absolute', left: p.left, top: p.top, width: p.width, height: p.height, border: '4px solid ' + PANEL_BLUE, borderRadius: 22, boxSizing: 'border-box' }} />
      ))}
      {PLOTS.map((p, i) => (
        <PlotCanvas key={'c' + i} L={p.L} T={p.T} R={p.R} B={p.B} make={p.make} />
      ))}
      <div style={{ position: 'absolute', left: 778, top: 1018, width: 541, height: 213, background: '#fff' }} />
      <div style={{ position: 'absolute', left: 792, top: 1030, width: 515, height: 230, border: '1.5px solid #222', borderRadius: 5, boxSizing: 'border-box', background: '#fff' }} />
      <div style={{ position: 'absolute', left: 1049, top: 1040, transform: 'translateX(-50%)', font: '26px ' + FONT, lineHeight: '26px', whiteSpace: 'nowrap', color: '#000' }}>Gain</div>
      {GAIN_LABELS.map((g, i) => {
        const col = Math.floor(i / 4);
        const row = i % 4;
        return (
          <React.Fragment key={'l' + i}>
            <div style={{ position: 'absolute', left: LEG_LINE_X[col], top: LEG_ROWS[row] - 1, width: 40, height: 1.6, background: GAIN_COLORS[i] }} />
            <div style={{ position: 'absolute', left: LEG_TEXT_X[col], top: LEG_ROWS[row] - 12.5, font: '26px ' + FONT, lineHeight: '26px', whiteSpace: 'nowrap', color: '#000' }}>{g}</div>
          </React.Fragment>
        );
      })}
      <svg style={{ position: 'absolute', left: 0, top: 1160 }} width={170} height={71}>
        <g fill="none" stroke="#8CA6D8" strokeWidth={3}>
          <line x1={84} y1={9} x2={157} y2={9} />
          <path d="M 3 71 A 91 91 0 0 1 84 9" />
          <path d="M 20 57 Q 77 -5 133 70" />
          <line x1={147} y1={12} x2={136} y2={71} />
        </g>
        <text x={8} y={83} fill="#7F9BD2" fontFamily='"Liberation Sans", Arial, sans-serif' fontWeight="bold" fontSize={34}>CERN</text>
      </svg>
    </div>
  );
}
